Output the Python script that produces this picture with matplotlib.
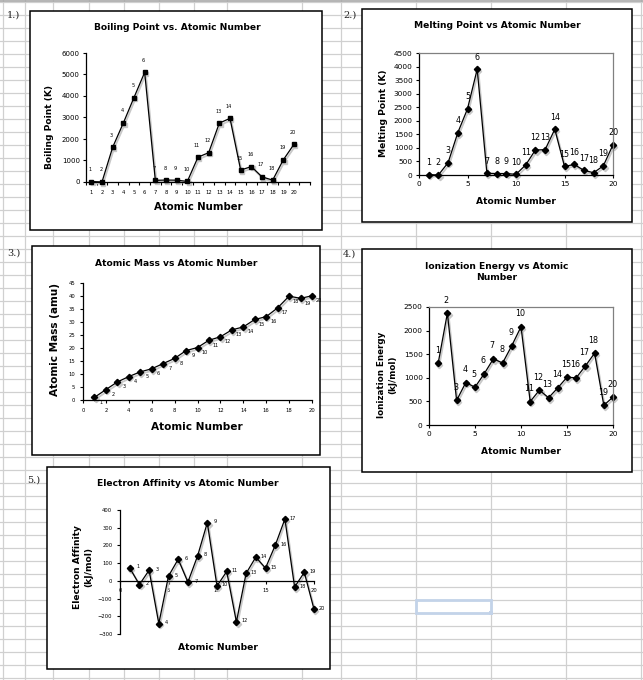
import matplotlib
matplotlib.use("Agg")
import matplotlib.pyplot as plt
import matplotlib.transforms as mtransforms
from matplotlib.patches import Rectangle

# --- data ---
atomic_number = list(range(1, 21))
boiling_point = [20, 4, 1615, 2745, 3930, 5100, 77, 90, 85, 27,
                 1156, 1363, 2740, 2960, 553, 718, 239, 87, 1032, 1757]
melting_point = [14, 1, 454, 1560, 2440, 3900, 63, 54, 53, 25,
                 371, 923, 933, 1687, 317, 388, 172, 84, 336, 1115]
atomic_mass = [1.008, 4.003, 6.94, 9.01, 10.81, 12.01, 14.01, 16.00, 19.00, 20.18,
               22.99, 24.31, 26.98, 28.09, 30.97, 32.06, 35.45, 39.95, 39.10, 40.08]
ionization_energy = [1312, 2372, 520, 900, 801, 1086, 1402, 1314, 1681, 2081,
                     496, 738, 578, 787, 1012, 1000, 1251, 1521, 419, 590]
electron_affinity = [73, -21, 60, -241, 27, 122, -7, 141, 328, -29,
                     53, -232, 42, 134, 72, 200, 349, -35, 48, -160]

W, H = 643, 680
fig = plt.figure(figsize=(W / 100, H / 100), dpi=100)

# background "spreadsheet" in pixel coordinates
bg = fig.add_axes([0, 0, 1, 1])
bg.set_xlim(0, W)
bg.set_ylim(H, 0)
bg.axis("off")
grid_col = "#d0d0d0"
for x in [3, 25, 53, 89, 124, 159, 194, 227, 302, 341, 416, 491, 566, 641]:
    bg.axvline(x, color=grid_col, lw=0.9, zorder=0)
for y in range(2, H, 13):
    bg.axhline(y, color=grid_col, lw=0.9, zorder=0)
bg.axhline(0.5, color="#a8a8a8", lw=1.2, zorder=0)

# chart boxes (left, top, right, bottom)
boxes = [(30, 11, 322, 230), (362, 9, 632, 222), (32, 246, 320, 455),
         (362, 249, 632, 472), (47, 467, 330, 669)]
for l, t, r, b in boxes:
    bg.add_patch(Rectangle((l, t), r - l, b - t, facecolor="white",
                           edgecolor="black", lw=1.1, zorder=2))

for txt, x, y in [("1.)", 7, 15), ("2.)", 343, 15), ("3.)", 7, 253),
                  ("4.)", 343, 254), ("5.)", 27, 480)]:
    bg.text(x, y, txt, fontsize=7, family="DejaVu Serif", va="center",
            ha="left", color="#222222", zorder=3)

# selected cell
bg.add_patch(Rectangle((416, 600), 75, 13, facecolor="none",
                       edgecolor="#c3d3e9", lw=2, zorder=3))
bg.add_patch(Rectangle((488.5, 610.5), 4, 4, facecolor="#c3d3e9",
                       edgecolor="none", zorder=3))


def text_px(x, y, s, size, rot=0, weight="bold"):
    bg.text(x, y, s, fontsize=size, fontweight=weight, ha="center",
            va="center", rotation=rot, zorder=4, linespacing=1.25)


def axes_px(l, t, r, b):
    ax = fig.add_axes([l / W, 1 - b / H, (r - l) / W, (b - t) / H])
    ax.patch.set_alpha(0)
    return ax


def draw_series(ax, xs, ys, marker, ms):
    # Excel-style drop shadow under the series
    shadow = mtransforms.offset_copy(ax.transData, fig=fig, x=1.2, y=-1.8,
                                     units="dots")
    ax.plot(xs, ys, color="#c8c8c8", lw=1.3, marker=marker, ms=ms,
            mec="#c8c8c8", mfc="#c8c8c8", transform=shadow, clip_on=False)
    ax.plot(xs, ys, color="black", lw=0.9, marker=marker, ms=ms,
            mec="black", mfc="black", clip_on=False)


def label_points(ax, xs, ys, dx, dy, size):
    for n, x, y in zip(atomic_number, xs, ys):
        ax.annotate(str(n), (x, y), xytext=(dx, dy), textcoords="offset pixels",
                    fontsize=size, ha="center", va="center")


# 1.) boiling point (category axis)
text_px(177, 28, "Boiling Point vs. Atomic Number", 6.6)
text_px(50, 127, "Boiling Point (K)", 6.6, rot=90)
text_px(198, 207, "Atomic Number", 7.3)
ax1 = axes_px(86, 53, 310, 182)
draw_series(ax1, atomic_number, boiling_point, "s", 2.6)
label_points(ax1, atomic_number, boiling_point, -1, 12, 3.6)
ax1.set_xlim(0.5, 21.5)
ax1.set_ylim(0, 6000)
ax1.set_yticks(range(0, 6001, 1000))
ax1.set_xticks(atomic_number)
ax1.set_xticks([i + 0.5 for i in range(0, 22)], minor=True)
ax1.tick_params(axis="x", which="major", length=0, labelsize=3.8, pad=6)
ax1.tick_params(axis="x", which="minor", length=2.5, width=0.8, direction="out")
ax1.tick_params(axis="y", length=2.5, width=0.8, labelsize=5, pad=2)
for s in ["top", "right"]:
    ax1.spines[s].set_visible(False)

# 2.) melting point
text_px(497, 25, "Melting Point vs Atomic Number", 6.6)
text_px(383, 113, "Melting Point (K)", 6.6, rot=90)
text_px(516, 202, "Atomic Number", 6.6)
ax2 = axes_px(419, 53, 613, 175)
draw_series(ax2, atomic_number, melting_point, "D", 3.2)
label_points(ax2, atomic_number, melting_point, 0, 12, 5.8)
ax2.set_xlim(0, 20)
ax2.set_ylim(0, 4500)
ax2.set_yticks(range(0, 4501, 500))
ax2.set_xticks(range(0, 21, 5))

# 3.) atomic mass
text_px(176, 263, "Atomic Mass vs Atomic Number", 6.6)
text_px(55, 340, "Atomic Mass (amu)", 7.6, rot=90)
text_px(197, 427, "Atomic Number", 7.6)
ax3 = axes_px(83, 283, 312, 400)
draw_series(ax3, atomic_number, atomic_mass, "D", 3.2)
label_points(ax3, atomic_number, atomic_mass, 7, -5, 3.6)
ax3.set_xlim(0, 20)
ax3.set_ylim(0, 45)
ax3.set_yticks(range(0, 46, 5))
ax3.set_xticks(range(0, 21, 2))
ax3.tick_params(axis="both", length=2.5, width=0.8, labelsize=3.8, pad=3)
for s in ["top", "right"]:
    ax3.spines[s].set_visible(False)

# 4.) ionization energy
text_px(497, 272, "Ionization Energy vs Atomic\nNumber", 6.6)
text_px(387, 375, "Ionization Energy\n(kJ/mol)", 6.3, rot=90)
text_px(521, 452, "Atomic Number", 6.6)
ax4 = axes_px(429, 307, 613, 425)
draw_series(ax4, atomic_number, ionization_energy, "D", 3.2)
label_points(ax4, atomic_number, ionization_energy, -1, 13, 5.8)
ax4.set_xlim(0, 20)
ax4.set_ylim(0, 2500)
ax4.set_yticks(range(0, 2501, 500))
ax4.set_xticks(range(0, 21, 5))

for ax in (ax2, ax4):
    ax.tick_params(axis="both", length=2.5, width=0.8, labelsize=5.3, pad=2)
    ax.spines["top"].set_color("#808080")
    ax.spines["right"].set_color("#808080")
    for s in ax.spines.values():
        s.set_linewidth(0.9)

# 5.) electron affinity
text_px(188, 483, "Electron Affinity vs Atomic Number", 6.6)
text_px(83, 567, "Electron Affinity\n(kJ/mol)", 6.6, rot=90)
text_px(218, 648, "Atomic Number", 6.6)
ax5 = axes_px(120, 510, 314, 634)
draw_series(ax5, atomic_number, electron_affinity, "D", 3.2)
label_points(ax5, atomic_number, electron_affinity, 8, 1, 3.6)
ax5.set_xlim(0, 20)
ax5.set_ylim(-300, 400)
ax5.set_yticks(range(-300, 401, 100))
ax5.set_xticks(range(0, 21, 5))
ax5.spines["bottom"].set_position(("data", 0))
ax5.tick_params(axis="both", length=2.5, width=0.8, labelsize=3.8, pad=3)
for s in ["top", "right"]:
    ax5.spines[s].set_visible(False)

for ax in (ax1, ax2, ax3, ax4, ax5):
    for s in ("left", "bottom"):
        ax.spines[s].set_linewidth(0.9)

fig.savefig("out.png", dpi=100)
